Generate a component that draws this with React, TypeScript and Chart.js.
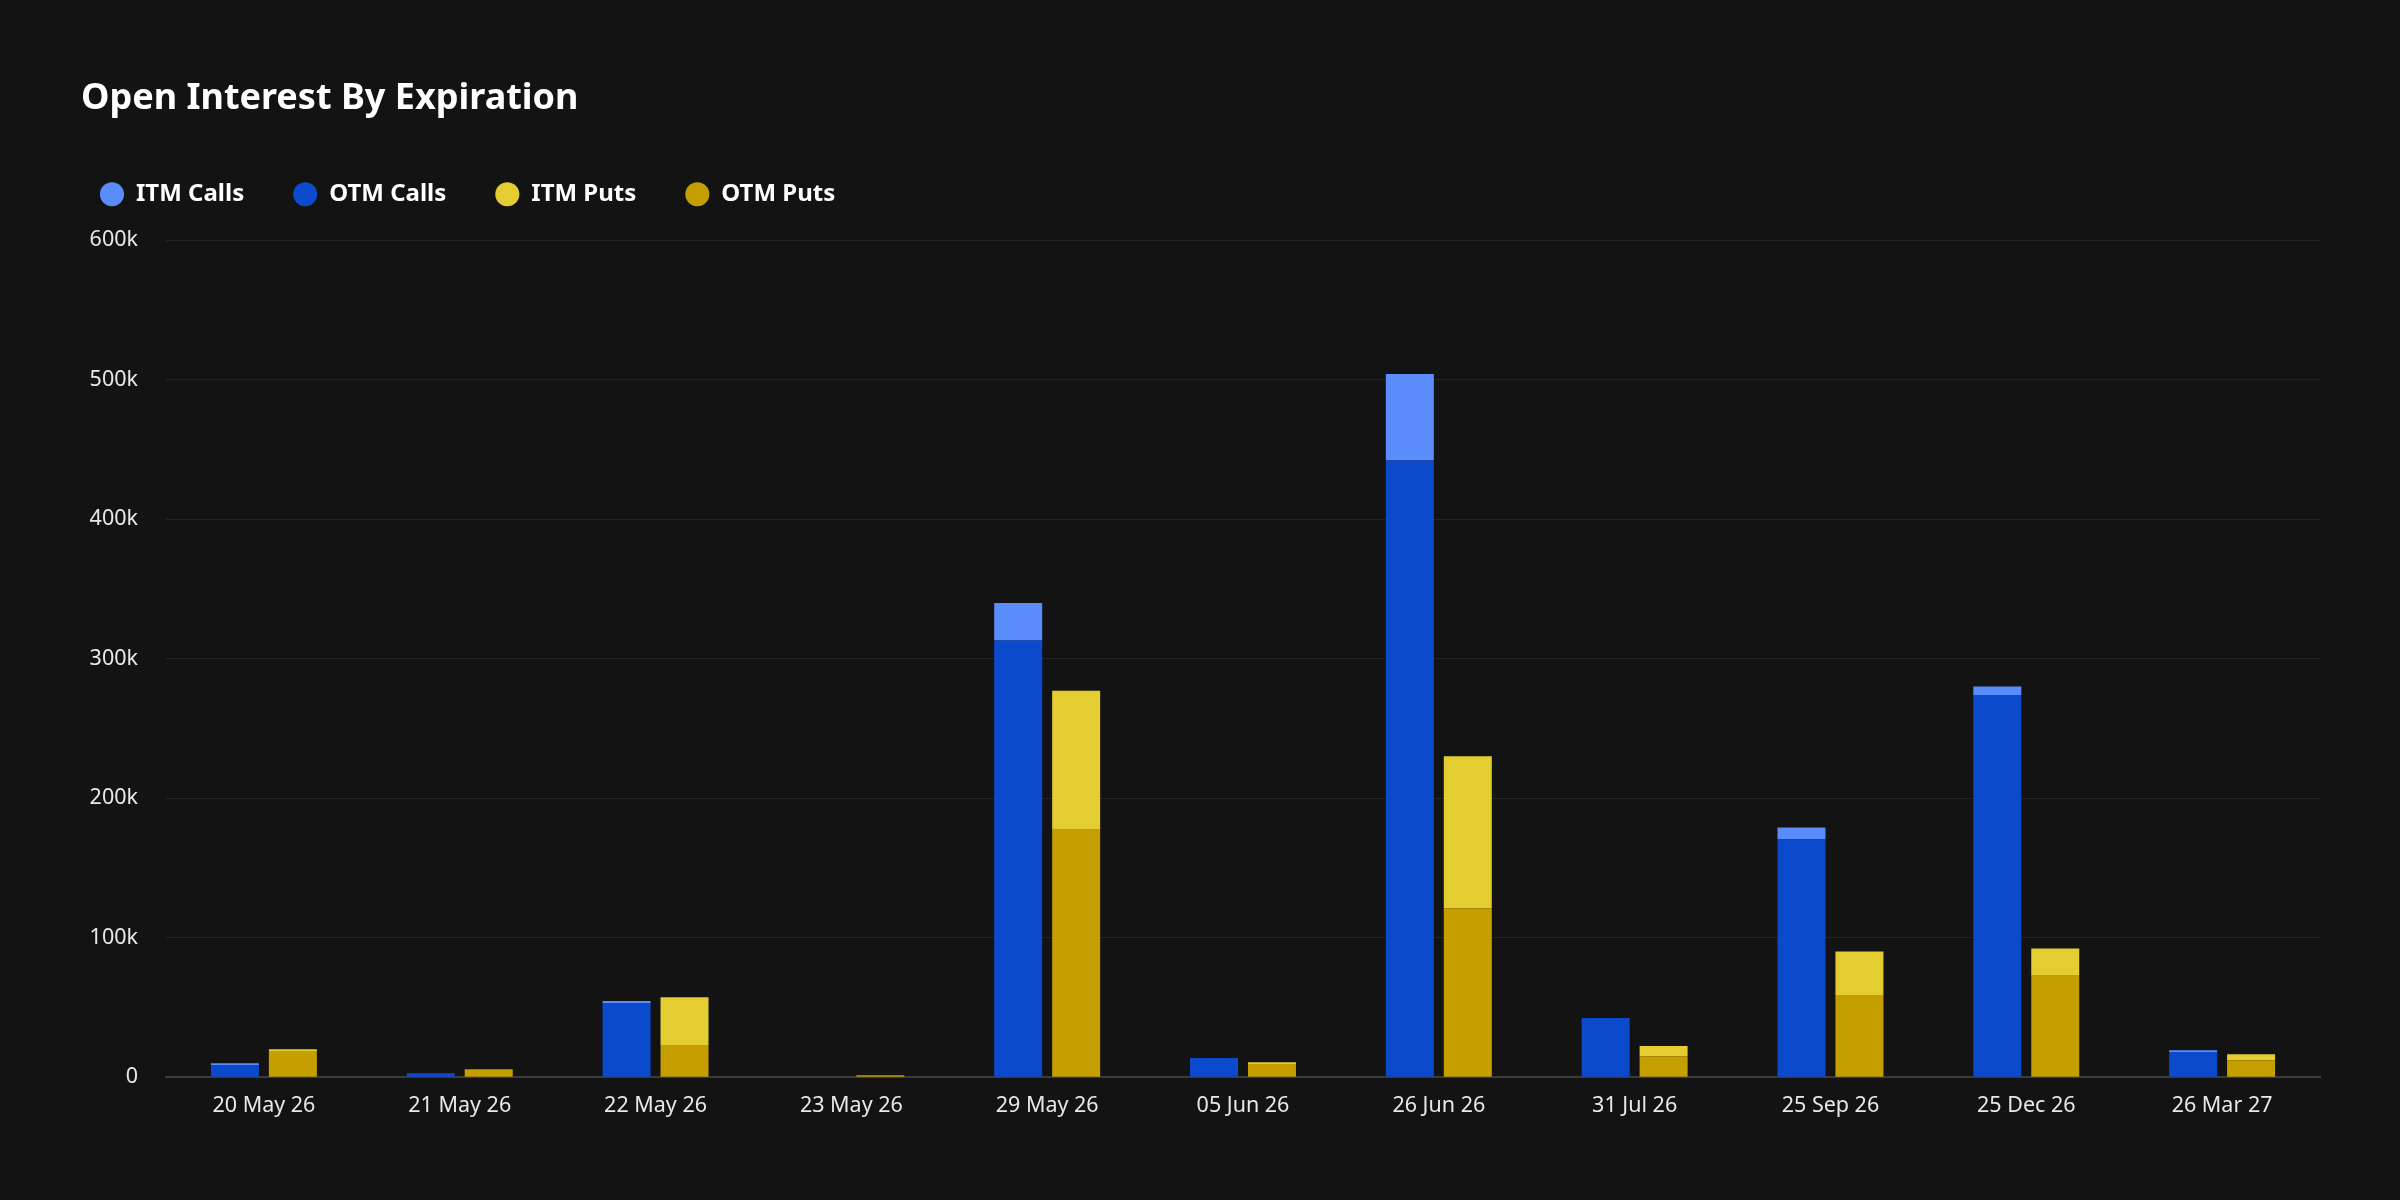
import React, { useEffect, useRef } from 'react';
import { Chart, registerables } from 'chart.js';

Chart.register(...registerables);

const categories = [
  '20 May 26', '21 May 26', '22 May 26', '23 May 26', '29 May 26', '05 Jun 26',
  '26 Jun 26', '31 Jul 26', '25 Sep 26', '25 Dec 26', '26 Mar 27',
];
const otmCalls = [8600, 2900, 53200, 0, 313000, 13700, 442000, 42400, 170500, 274000, 18000];
const itmCalls = [1400, 0, 1400, 0, 27000, 0, 62000, 0, 8500, 6000, 1400];
const otmPuts = [18700, 5700, 23000, 1400, 178000, 9400, 121000, 15100, 58300, 72700, 12200];
const itmPuts = [1400, 0, 34400, 0, 99000, 1400, 109000, 7200, 31800, 19600, 4300];
const legendOrder = ['ITM Calls', 'OTM Calls', 'ITM Puts', 'OTM Puts'];
const yTicks = [0, 100000, 200000, 300000, 400000, 500000, 600000];

export default function App() {
  const ref = useRef<HTMLCanvasElement>(null);

  useEffect(() => {
    document.body.style.margin = '0';
    document.body.style.background = '#131313';
    const canvas = ref.current;
    if (!canvas) return;
    Chart.defaults.font.family = "'Noto Sans', sans-serif";
    const extraLegendGap = 24;
    const chart = new Chart(canvas, {
      type: 'bar',
      data: {
        labels: categories,
        datasets: [
          { label: 'OTM Calls', data: otmCalls, backgroundColor: '#0B4ACD', stack: 'calls' },
          { label: 'ITM Calls', data: itmCalls, backgroundColor: '#5A8CFB', stack: 'calls' },
          { label: 'OTM Puts', data: otmPuts, backgroundColor: '#C59E00', stack: 'puts' },
          { label: 'ITM Puts', data: itmPuts, backgroundColor: '#E4CD31', stack: 'puts' },
        ],
      },
      options: {
        responsive: false,
        animation: false,
        layout: { padding: { top: 77, left: 51, right: 80, bottom: 65 } },
        datasets: { bar: { categoryPercentage: 0.592, barPercentage: 0.828, borderWidth: 0 } } as any,
        plugins: {
          title: {
            display: true,
            text: 'Open Interest By Expiration',
            align: 'start',
            color: '#ffffff',
            font: { size: 36, weight: 'bold', lineHeight: 1.2 },
            padding: { top: 0, bottom: 13 },
          },
          legend: {
            display: true,
            align: 'start',
            labels: {
              usePointStyle: true,
              pointStyle: 'circle',
              boxWidth: 24,
              boxHeight: 17,
              padding: 49,
              color: '#ffffff',
              font: { size: 24, weight: 'bold' },
              sort: (a: any, b: any) => legendOrder.indexOf(a.text) - legendOrder.indexOf(b.text),
            },
          },
          tooltip: { enabled: false },
        },
        scales: {
          x: {
            stacked: true,
            grid: { display: false, drawTicks: false },
            border: { display: true, color: '#3a3a3a', width: 2 },
            ticks: { color: '#e8e8e8', font: { size: 21.5 }, padding: 16, maxRotation: 0 },
          },
          y: {
            stacked: true,
            min: 0,
            max: 600000,
            afterBuildTicks: (scale: any) => {
              scale.ticks = yTicks.map((v) => ({ value: v }));
            },
            ticks: {
              color: '#e8e8e8',
              font: { size: 21.5 },
              padding: 28,
              callback: (v: any) => (Number(v) === 0 ? '0' : `${Number(v) / 1000}k`),
            },
            grid: { color: '#242424', lineWidth: 1, drawTicks: false },
            border: { display: false },
            afterFit: (scale: any) => {
              scale.width = 115;
            },
          },
        },
      },
      plugins: [
        {
          id: 'layoutTweaks',
          beforeInit(c: any) {
            const lg = c.legend;
            if (lg) {
              const fit = lg.fit.bind(lg);
              lg.fit = () => {
                fit();
                lg.height += extraLegendGap;
              };
            }
          },
          afterLayout(c: any) {
            if (c.titleBlock) c.titleBlock.left += 30;
          },
        },
      ],
    } as any);
    return () => chart.destroy();
  }, []);

  return (
    <canvas
      ref={ref}
      width={2400}
      height={1200}
      style={{ display: 'block', width: 2400, height: 1200, background: '#131313' }}
    />
  );
}
